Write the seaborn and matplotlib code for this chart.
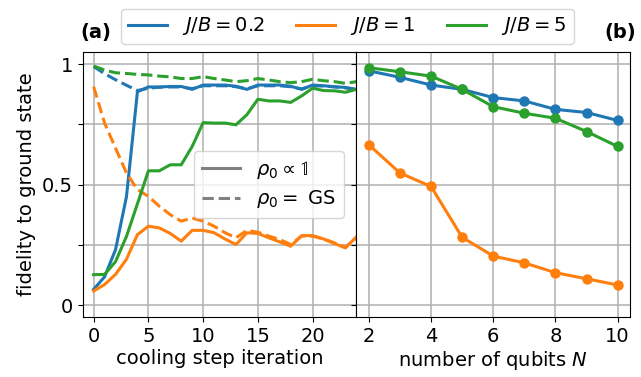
import matplotlib
matplotlib.use('Agg')
import matplotlib.pyplot as plt
from matplotlib.lines import Line2D
import numpy as np
import pandas as pd
import seaborn as sns

# panel (a): fidelity vs cooling step, for the three couplings
steps = list(range(25))
blue_mixed = [0.065, 0.117, 0.23, 0.45, 0.885, 0.905, 0.905, 0.907, 0.907, 0.895, 0.913, 0.913,
              0.913, 0.908, 0.895, 0.913, 0.913, 0.913, 0.908, 0.895, 0.913, 0.91, 0.906, 0.903, 0.895]
blue_gs = [0.99, 0.96, 0.935, 0.912, 0.89, 0.9, 0.904, 0.905, 0.905, 0.898, 0.91, 0.91,
           0.91, 0.906, 0.897, 0.91, 0.91, 0.91, 0.906, 0.897, 0.91, 0.909, 0.905, 0.901, 0.894]
orange_mixed = [0.058, 0.085, 0.127, 0.19, 0.292, 0.327, 0.32, 0.297, 0.265, 0.31, 0.31, 0.3,
                0.274, 0.251, 0.3, 0.297, 0.279, 0.262, 0.244, 0.288, 0.288, 0.274, 0.255, 0.237, 0.283]
orange_gs = [0.906, 0.755, 0.651, 0.548, 0.479, 0.451, 0.41, 0.375, 0.348, 0.361, 0.348, 0.327,
             0.3, 0.279, 0.31, 0.302, 0.286, 0.272, 0.251, 0.286, 0.286, 0.274, 0.258, 0.24, 0.279]
green_mixed = [0.126, 0.127, 0.18, 0.285, 0.42, 0.557, 0.557, 0.582, 0.582, 0.658, 0.757, 0.755,
               0.755, 0.748, 0.79, 0.854, 0.847, 0.847, 0.841, 0.868, 0.9, 0.89, 0.889, 0.883, 0.895]
green_gs = [0.992, 0.975, 0.964, 0.961, 0.957, 0.955, 0.95, 0.947, 0.94, 0.94, 0.948, 0.94,
            0.934, 0.927, 0.931, 0.94, 0.934, 0.927, 0.923, 0.927, 0.937, 0.931, 0.927, 0.92, 0.927]

# panel (b): fidelity vs number of qubits
qubits = [2, 3, 4, 5, 6, 7, 8, 9, 10]
blue_n = [0.972, 0.945, 0.913, 0.895, 0.861, 0.847, 0.812, 0.799, 0.766]
orange_n = [0.665, 0.548, 0.492, 0.281, 0.203, 0.175, 0.134, 0.109, 0.083]
green_n = [0.985, 0.968, 0.95, 0.895, 0.823, 0.796, 0.775, 0.72, 0.658]

labels = ['$J/B = 0.2$', '$J/B = 1$', '$J/B = 5$']
colors = ['#1f77b4', '#ff7f0e', '#2ca02c']

plt.rcParams['font.size'] = 14
plt.rcParams['font.family'] = ['DejaVu Sans']

fig, (ax1, ax2) = plt.subplots(1, 2, figsize=(6.41, 3.77), dpi=100, sharey=True)
fig.subplots_adjust(left=0.129, right=0.983, bottom=0.159, top=0.862, wspace=0)

lw = 2.2
for mixed, gs, c in zip([blue_mixed, orange_mixed, green_mixed],
                        [blue_gs, orange_gs, green_gs], colors):
  sns.lineplot(x=steps, y=gs, ax=ax1, color=c, lw=lw, ls='--', estimator=None, sort=False)
  sns.lineplot(x=steps, y=mixed, ax=ax1, color=c, lw=lw, estimator=None, sort=False)

for vals, c in zip([blue_n, orange_n, green_n], colors):
  sns.lineplot(x=qubits, y=vals, ax=ax2, color=c, lw=lw, marker='o', markersize=7.5,
               markeredgewidth=0, estimator=None, sort=False)

ax1.set_xlim(-1, 24)
ax1.set_ylim(-0.05, 1.05)
ax1.set_xticks([0, 5, 10, 15, 20])
ax1.set_yticks([0, 0.25, 0.5, 0.75, 1])
ax1.set_yticklabels(['0', '', '0.5', '', '1'])
ax1.set_xlabel('cooling step iteration', labelpad=2)
ax1.set_ylabel('fidelity to ground state')

ax2.set_xlim(1.6, 10.4)
ax2.set_xticks([2, 4, 6, 8, 10])
ax2.set_xlabel('number of qubits $N$', labelpad=2)
ax2.tick_params(labelleft=False)

for ax in (ax1, ax2):
  ax.grid(True, color='#b0b0b0', lw=1.1)
  ax.set_axisbelow(True)

# line style legend inside panel (a)
style_handles = [Line2D([], [], color='gray', lw=lw),
                 Line2D([], [], color='gray', lw=lw, ls='--')]
ax1.legend(style_handles, [r'$\rho_0 \propto \mathbb{1}$', r'$\rho_0 =$ GS'],
           loc='center right', bbox_to_anchor=(0.99, 0.5), handlelength=2.0,
           borderpad=0.4, labelspacing=0.4)

# colour legend on top
col_handles = [Line2D([], [], color=c, lw=lw) for c in colors]
fig.legend(col_handles, labels, ncol=3, loc='center', bbox_to_anchor=(0.542, 0.93),
           handlelength=2.0, columnspacing=1.6, borderpad=0.35)

fig.text(0.125, 0.915, '(a)', fontweight='bold', ha='left', va='center')
fig.text(0.992, 0.915, '(b)', fontweight='bold', ha='right', va='center')

fig.savefig('out.png', dpi=100)
